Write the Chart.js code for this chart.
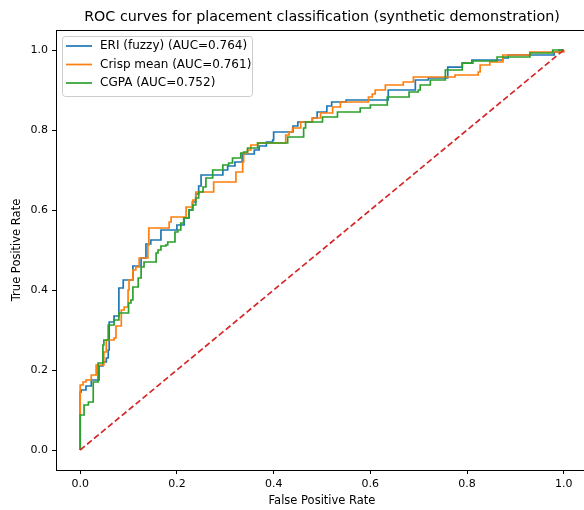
<!DOCTYPE html>
<html>
<head>
<meta charset="utf-8">
<script src="https://cdn.jsdelivr.net/npm/chart.js@4"></script>
<style>
  html, body { margin: 0; padding: 0; background: #fff; overflow: hidden; }
  #wrap { width: 644px; height: 510px; }
</style>
</head>
<body>
<div id="wrap"><canvas id="roc" width="644" height="510"></canvas></div>
<script>
// ROC curves (fpr, tpr pairs; step drawn horizontal-then-up)
const eriFpr = [0, 0, .002, .012, .023, .039, .047, .054, .058, .06, .07, .08, .089, .109, .126, .136, .146, .167, .2, .215, .225, .232, .239, .245, .25, .295, .305, .32, .335, .36, .37, .385, .398, .4, .44, .45, .48, .49, .51, .52, .55, .637, .693, .72, .76, .79, .81, .874, .885, .98, .99, 1];
const eriTpr = [0, .145, .15, .16, .175, .21, .22, .23, .25, .32, .335, .405, .425, .46, .48, .515, .525, .55, .5625, .58, .6, .62, .64, .66, .6875, .70, .71, .72, .74, .75, .76, .77, .775, .795, .81, .82, .83, .845, .86, .87, .875, .9, .925, .93, .957, .967, .975, .98, .9875, .995, 1, 1];

const crispFpr = [0, 0, .006, .012, .023, .033, .049, .054, .07, .074, .085, .091, .099, .101, .109, .115, .122, .14, .142, .184, .188, .219, .233, .239, .276, .322, .336, .338, .346, .353, .367, .425, .432, .439, .456, .48, .497, .522, .538, .596, .604, .61, .631, .668, .689, .775, .823, .827, .847, .874, .93, 1];
const crispTpr = [0, .1625, .17, .175, .1875, .2125, .245, .275, .28, .31, .35, .3575, .40, .425, .45, .4575, .48, .5125, .555, .57, .5825, .6075, .625, .645, .67, .695, .72, .7425, .75, .7625, .7675, .7875, .795, .805, .82, .83, .8425, .8575, .87, .8825, .89, .9, .9125, .92, .9325, .9375, .945, .9625, .97, .9875, .995, 1];

const cgpaFpr = [0, 0, .008, .017, .027, .037, .047, .049, .058, .07, .08, .1, .105, .109, .12, .126, .132, .157, .161, .167, .177, .181, .196, .202, .208, .214, .225, .233, .239, .245, .254, .26, .274, .295, .307, .315, .332, .338, .346, .367, .429, .462, .466, .501, .532, .579, .6, .635, .68, .699, .703, .724, .755, .79, .812, .862, .93, .977, 1];
const cgpaTpr = [0, .0875, .1125, .12, .17, .2175, .2625, .275, .3125, .325, .3425, .3675, .375, .4075, .43, .4575, .47, .4925, .5, .51, .5125, .52, .545, .55, .5675, .58, .6, .6125, .63, .645, .6575, .68, .70, .7125, .7175, .73, .7425, .745, .755, .7675, .7825, .805, .82, .8325, .845, .855, .8625, .8825, .895, .9, .9125, .925, .95, .967, .9725, .9825, .9925, 1, 1];

const seriesNames = ["ERI (fuzzy) (AUC=0.764)", "Crisp mean (AUC=0.761)", "CGPA (AUC=0.752)"];
const chanceLine = [0, 1];
const xTicks = [0, 0.2, 0.4, 0.6, 0.8, 1.0];
const yTicks = [0, 0.2, 0.4, 0.6, 0.8, 1.0];

const MPL = { blue: "#1f77b4", orange: "#ff7f0e", green: "#2ca02c", red: "#d62728" };
const FONT = "'DejaVu Sans', sans-serif";

const pts = (xs, ys) => xs.map((x, i) => ({ x, y: ys[i] }));

const curve = (label, xs, ys, color, order) => ({
  label, data: pts(xs, ys), borderColor: color, backgroundColor: color,
  borderWidth: 1.7, pointRadius: 0, showLine: true, stepped: "before", order,
});

// frame (all 4 spines) + matplotlib-style legend box inside the axes
const framePlugin = {
  id: "frame",
  afterDraw(chart) {
    const { ctx, chartArea: a } = chart;
    ctx.save();
    ctx.strokeStyle = "#000";
    ctx.lineWidth = 1;
    ctx.strokeRect(a.left + 0.5, a.top + 0.5, a.right - a.left, a.bottom - a.top);

    // legend
    const x0 = 62, y0 = 36, w = 190, h = 60, r = 3;
    ctx.fillStyle = "rgba(255,255,255,0.8)";
    ctx.strokeStyle = "#cccccc";
    ctx.beginPath();
    ctx.roundRect(x0 + 0.5, y0 + 0.5, w, h, r);
    ctx.fill();
    ctx.stroke();
    const colors = [MPL.blue, MPL.orange, MPL.green];
    ctx.font = "12px " + FONT;
    ctx.textBaseline = "middle";
    seriesNames.forEach((name, i) => {
      const yy = 46 + i * 18.5;
      ctx.strokeStyle = colors[i];
      ctx.lineWidth = 1.7;
      ctx.beginPath();
      ctx.moveTo(66, yy);
      ctx.lineTo(92, yy);
      ctx.stroke();
      ctx.fillStyle = "#000";
      ctx.fillText(name, 100, yy);
    });

    // title centred over the axes
    ctx.font = "14.3px " + FONT;
    ctx.textAlign = "center";
    ctx.textBaseline = "middle";
    ctx.fillText("ROC curves for placement classification (synthetic demonstration)", (a.left + a.right) / 2, 17);
    ctx.restore();
  },
};

const axisCommon = (ticksList, title, titlePad) => ({
  type: "linear",
  min: -0.05,
  max: 1.05,
  afterBuildTicks: (s) => { s.ticks = ticksList.map(v => ({ value: v })); },
  ticks: { color: "#000", font: { family: FONT, size: 11 }, padding: 4, callback: (v) => v.toFixed(1) },
  grid: { drawOnChartArea: false, color: "#000", tickLength: 4, tickWidth: 1 },
  border: { display: false },
  title: { display: true, text: title, color: "#000", font: { family: FONT, size: 11.5 }, padding: titlePad },
});

new Chart(document.getElementById("roc"), {
  type: "scatter",
  data: {
    datasets: [
      curve(seriesNames[0], eriFpr, eriTpr, MPL.blue, 4),
      curve(seriesNames[1], crispFpr, crispTpr, MPL.orange, 3),
      curve(seriesNames[2], cgpaFpr, cgpaTpr, MPL.green, 2),
      {
        label: "chance", data: pts(chanceLine, chanceLine), borderColor: MPL.red,
        borderWidth: 1.7, borderDash: [6, 3], pointRadius: 0, showLine: true, order: 1,
      },
    ],
  },
  options: {
    responsive: false,
    animation: false,
    layout: { padding: { top: 30, right: 56, left: 0, bottom: 0 } },
    plugins: { legend: { display: false }, tooltip: { enabled: false }, title: { display: false } },
    scales: {
      x: { ...axisCommon(xTicks, "False Positive Rate", { top: 2, bottom: 2 }), afterFit: (s) => { s.height = 40; } },
      y: { ...axisCommon(yTicks, "True Positive Rate", { top: 10, bottom: 2 }), afterFit: (s) => { s.width = 56; } },
    },
  },
  plugins: [framePlugin],
});
</script>
</body>
</html>
